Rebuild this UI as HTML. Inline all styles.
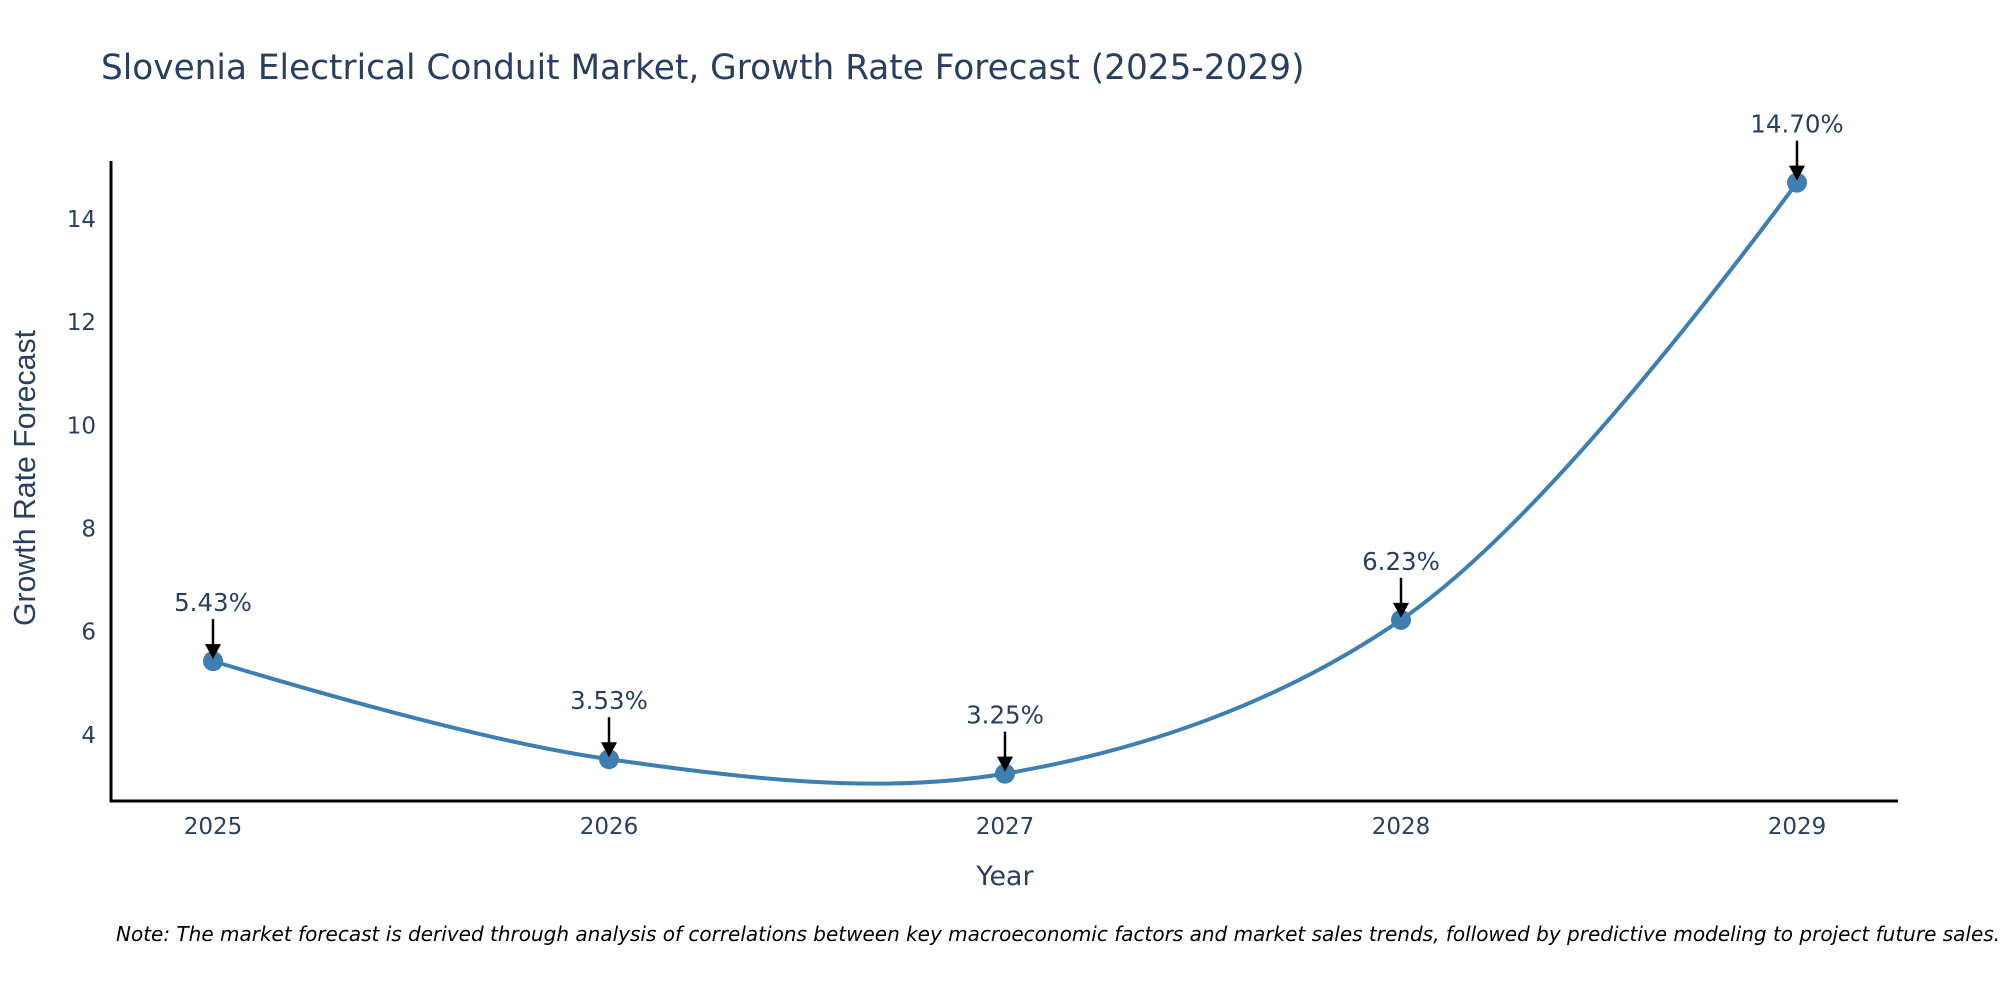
<!DOCTYPE html>
<html><head><meta charset="utf-8"><style>
html,body{margin:0;padding:0;background:#fff;}
svg{display:block;font-family:"DejaVu Sans","Liberation Sans",sans-serif;}
</style></head><body>
<svg id="chart" width="2000" height="1000" viewBox="0 0 2000 1000">
<text x="101" y="79" font-size="34.3" fill="#2a3f5f">Slovenia Electrical Conduit Market, Growth Rate Forecast (2025-2029)</text>
<g id="yticks"></g>
<g id="xticks"></g>
<line x1="111" y1="161" x2="111" y2="802" stroke="#000" stroke-width="3"/>
<line x1="110" y1="801" x2="1898" y2="801" stroke="#000" stroke-width="3"/>
<path id="line" fill="none" stroke="#3d7fb0" stroke-width="4"/>
<g id="points"></g>
<g id="annots"></g>
<text x="1005" y="885" font-size="27" fill="#2a3f5f" text-anchor="middle">Year</text>
<text transform="translate(35,478) rotate(-90)" font-family="Liberation Sans, sans-serif" font-size="31" fill="#2a3f5f" text-anchor="middle" textLength="296" lengthAdjust="spacingAndGlyphs">Growth Rate Forecast</text>
<text x="116" y="941" font-size="20" font-style="italic" fill="#000">Note: The market forecast is derived through analysis of correlations between key macroeconomic factors and market sales trends, followed by predictive modeling to project future sales.</text>
</svg>
<script>
const years = [2025, 2026, 2027, 2028, 2029];
const values = [5.43, 3.53, 3.25, 6.23, 14.70];
const labels = ["5.43%", "3.53%", "3.25%", "6.23%", "14.70%"];
const yTicks = [4, 6, 8, 10, 12, 14];

const NS = "http://www.w3.org/2000/svg";
const yMin = 2.72, yMax = 15.12, pxTop = 161, pxBot = 801;
const xScale = i => 213 + i * 396;
const yScale = v => pxBot - (v - yMin) / (yMax - yMin) * (pxBot - pxTop);
function mk(tag, attrs, parent, text) {
  const e = document.createElementNS(NS, tag);
  for (const k in attrs) e.setAttribute(k, attrs[k]);
  if (text !== undefined) e.textContent = text;
  parent.appendChild(e);
  return e;
}
const yt = document.getElementById('yticks');
yTicks.forEach(t => {
  const e = mk('text', {x: 96, y: yScale(t) + 8, 'font-size': 23, fill: '#2a3f5f', 'text-anchor': 'end'}, yt, String(t));
  
  
});
const xt = document.getElementById('xticks');
years.forEach((y, i) => {
  const e = mk('text', {x: xScale(i), y: 834, 'font-size': 23, fill: '#2a3f5f', 'text-anchor': 'middle'}, xt, String(y));
  
  
});
// plotly-style spline
const pts = values.map((v, i) => [xScale(i), yScale(v)]);
function tangent(p0, p1, p2) {
  const d1x = p0[0]-p1[0], d1y = p0[1]-p1[1], d2x = p2[0]-p1[0], d2y = p2[1]-p1[1];
  const d1a = Math.pow(d1x*d1x + d1y*d1y, 0.25), d2a = Math.pow(d2x*d2x + d2y*d2y, 0.25);
  const numx = d2a*d2a*d1x - d1a*d1a*d2x, numy = d2a*d2a*d1y - d1a*d1a*d2y;
  const den1 = 3*d2a*(d1a+d2a), den2 = 3*d1a*(d1a+d2a);
  return [[p1[0]+numx/den1, p1[1]+numy/den1], [p1[0]-numx/den2, p1[1]-numy/den2]];
}
const tg = [];
for (let i = 1; i < pts.length - 1; i++) tg.push(tangent(pts[i-1], pts[i], pts[i+1]));
const P = p => p[0] + ',' + p[1];
let d = 'M' + P(pts[0]) + 'Q' + P(tg[0][0]) + ' ' + P(pts[1]);
for (let i = 1; i < pts.length - 2; i++) d += 'C' + P(tg[i-1][1]) + ' ' + P(tg[i][0]) + ' ' + P(pts[i+1]);
d += 'Q' + P(tg[tg.length-1][1]) + ' ' + P(pts[pts.length-1]);
document.getElementById('line').setAttribute('d', d);
const pg = document.getElementById('points');
const ag = document.getElementById('annots');
pts.forEach((p, i) => {
  const c = mk('circle', {cx: p[0], cy: p[1], r: 10, fill: '#3d7fb0'}, pg);
  
  
  const l = mk('line', {x1: p[0], y1: p[1] - 42, x2: p[0], y2: p[1] - 14, stroke: '#000', 'stroke-width': 2.5}, ag);
  
  
  const h = mk('polygon', {points: `${p[0]-8},${p[1]-17} ${p[0]+8},${p[1]-17} ${p[0]},${p[1]-2}`, fill: '#000'}, ag);
  
  
  const t = mk('text', {x: p[0], y: p[1] - 50, 'font-size': 24.5, fill: '#2a3f5f', 'text-anchor': 'middle'}, ag, labels[i]);
  
  
});
</script>
</body></html>
